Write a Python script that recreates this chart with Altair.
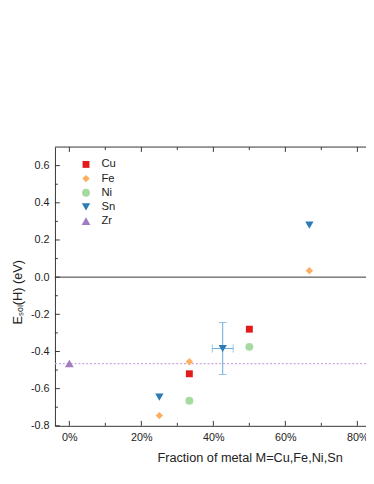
import altair as alt
import pandas as pd

# ---- data ----
metals = ["Cu", "Fe", "Ni", "Sn", "Zr"]
colors = ["#e31a1c", "#fdae61", "#a6dba0", "#2c7bb6", "#a07cc0"]
shapes = ["square", "diamond", "circle", "triangle-down", "triangle-up"]
sizes = [50, 80, 56, 64, 64]

pt_metal = ["Cu", "Cu", "Fe", "Fe", "Fe", "Ni", "Ni", "Sn", "Sn", "Sn", "Zr"]
pt_frac = [1/3, 0.5, 0.25, 1/3, 2/3, 1/3, 0.5, 0.25, 0.426, 2/3, 0.0]
pt_E = [-0.52, -0.28, -0.745, -0.455, 0.035, -0.665, -0.375, -0.645, -0.384, 0.28, -0.465]

err_x = [0.426]
err_y = [-0.384]
err_dx = [0.029]
err_dy = [0.14]

zr_ref = [-0.465]
zero_line = [0.0]

y_major = [-0.8, -0.6, -0.4, -0.2, 0.0, 0.2, 0.4, 0.6]
y_minor = [-0.7, -0.5, -0.3, -0.1, 0.1, 0.3, 0.5]
x_major = [0.0, 0.2, 0.4, 0.6, 0.8]
x_minor = [0.1, 0.3, 0.5, 0.7]

W, H = 318, 285
AX = "#333333"
FONT = "Liberation Sans"

pts = pd.DataFrame({"metal": pt_metal, "frac": pt_frac, "E": pt_E})
err = pd.DataFrame({"x": err_x, "y": err_y,
                    "xlo": [a - b for a, b in zip(err_x, err_dx)],
                    "xhi": [a + b for a, b in zip(err_x, err_dx)],
                    "ylo": [a - b for a, b in zip(err_y, err_dy)],
                    "yhi": [a + b for a, b in zip(err_y, err_dy)]})

xscale = alt.Scale(domain=[-0.04, 0.824], nice=False, zero=False)
yscale = alt.Scale(domain=[-0.8, 0.7], nice=False, zero=False)

xaxis = alt.Axis(values=x_major, format=".0%", ticks=False, grid=False,
                 domainColor=AX, labelColor="#222", labelFontSize=11, labelFont=FONT,
                 labelPadding=6, title="Fraction of metal M=Cu,Fe,Ni,Sn",
                 titleFont=FONT, titleFontSize=13, titleFontWeight="normal",
                 titleColor="#222", titleX=199, titleY=36, titleAlign="center",
                 titleBaseline="alphabetic", labelFlush=False)
yaxis = alt.Axis(values=y_major, ticks=False, grid=False, domainColor=AX,
                 labelColor="#222", labelFontSize=11, labelFont=FONT, labelPadding=6,
                 labelExpr="datum.value < -0.001 ? '-' + format(-datum.value, '.1f') : format(abs(datum.value), '.1f')",
                 title="Eₛₒₗ(H)  (eV)", titleFont=FONT, titleFontSize=13,
                 titleFontWeight="normal", titleColor="#222", titleAngle=-90,
                 titleX=-34, titleY=148, titleAlign="center", titleBaseline="alphabetic")


def X(field):
    return alt.X(field, type="quantitative", scale=xscale, axis=xaxis)


def Y(field):
    return alt.Y(field, type="quantitative", scale=yscale, axis=yaxis)


def df(vals):
    return pd.DataFrame({"v": vals})


layers = []
# zero line
layers.append(alt.Chart(df(zero_line)).mark_rule(color=AX, strokeWidth=1).encode(
    y=Y("v"), x=alt.value(0), x2=alt.value(W)))
# Zr reference dotted line
layers.append(alt.Chart(df(zr_ref)).mark_rule(color="#c4a8de", strokeWidth=1.2,
                                              strokeDash=[2, 2]).encode(
    y=Y("v"), x=alt.value(0), x2=alt.value(W)))
# top border
layers.append(alt.Chart(df([0])).mark_rule(color=AX, strokeWidth=1).encode(
    y=alt.value(0), x=alt.value(0), x2=alt.value(W)))
# inside ticks: left
layers.append(alt.Chart(df(y_major)).mark_rule(color=AX).encode(
    y=Y("v"), x=alt.value(0), x2=alt.value(5)))
layers.append(alt.Chart(df(y_minor)).mark_rule(color=AX).encode(
    y=Y("v"), x=alt.value(0), x2=alt.value(3)))
# inside ticks: top and bottom
layers.append(alt.Chart(df(x_major)).mark_rule(color=AX).encode(
    x=X("v"), y=alt.value(0), y2=alt.value(5)))
layers.append(alt.Chart(df(x_minor)).mark_rule(color=AX).encode(
    x=X("v"), y=alt.value(0), y2=alt.value(3)))
layers.append(alt.Chart(df(x_major)).mark_rule(color=AX).encode(
    x=X("v"), y=alt.value(H), y2=alt.value(H - 5)))
layers.append(alt.Chart(df(x_minor)).mark_rule(color=AX).encode(
    x=X("v"), y=alt.value(H), y2=alt.value(H - 3)))

# error bars
EC = "#6aa8d8"
eb = alt.Chart(err)
layers.append(eb.mark_rule(color=EC, strokeWidth=1).encode(x=X("x"), y=Y("ylo"), y2="yhi"))
layers.append(eb.mark_rule(color=EC, strokeWidth=1).encode(x=X("xlo"), x2="xhi", y=Y("y")))
layers.append(eb.mark_tick(color=EC, orient="horizontal", size=8, thickness=1).encode(x=X("x"), y=Y("ylo")))
layers.append(eb.mark_tick(color=EC, orient="horizontal", size=8, thickness=1).encode(x=X("x"), y=Y("yhi")))
layers.append(eb.mark_tick(color=EC, orient="vertical", size=8, thickness=1).encode(x=X("xlo"), y=Y("y")))
layers.append(eb.mark_tick(color=EC, orient="vertical", size=8, thickness=1).encode(x=X("xhi"), y=Y("y")))

# points
legend = alt.Legend(orient="none", legendX=26, legendY=12, title=None,
                    labelFont=FONT, labelFontSize=11.5, labelColor="#222",
                    symbolSize=42, labelOffset=10, rowPadding=1.5, padding=0,
                    symbolStrokeWidth=0)
layers.append(alt.Chart(pts).mark_point(filled=True, opacity=1, strokeWidth=0).encode(
    x=X("frac"), y=Y("E"),
    color=alt.Color("metal:N", scale=alt.Scale(domain=metals, range=colors), legend=legend),
    shape=alt.Shape("metal:N", scale=alt.Scale(domain=metals, range=shapes), legend=legend),
    size=alt.Size("metal:N", scale=alt.Scale(domain=metals, range=sizes), legend=None),
))

chart = alt.layer(*layers).properties(
    width=W, height=H,
    autosize=alt.AutoSizeParams(type="none"),
    padding={"left": 48, "top": 137, "right": 0, "bottom": 40},
).configure_view(strokeWidth=0)

chart.save("out.html", embed_options={"renderer": "svg", "actions": False})
